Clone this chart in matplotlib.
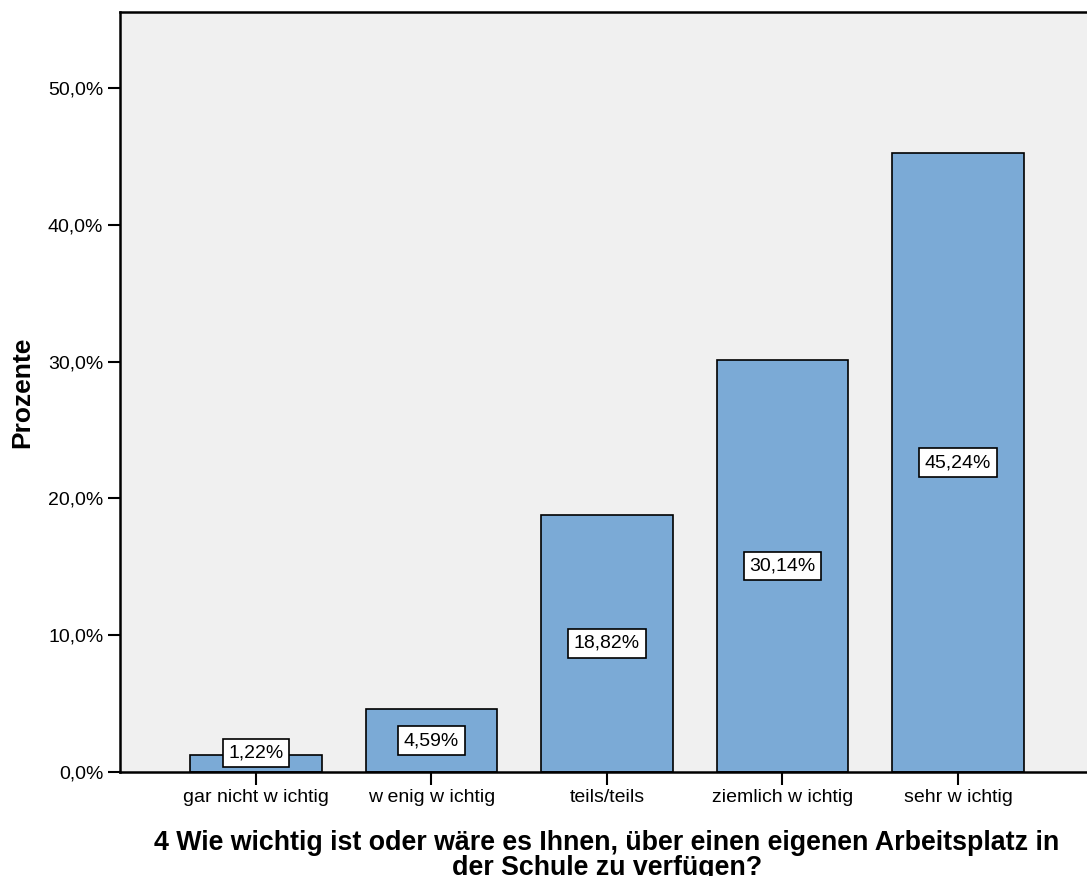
import matplotlib.pyplot as plt

plt.rcParams['font.family'] = ['Liberation Sans', 'DejaVu Sans']

# Antwortkategorien und Anteile in Prozent
kategorien = ["gar nicht w ichtig", "w enig w ichtig", "teils/teils",
              "ziemlich w ichtig", "sehr w ichtig"]
prozente = [1.22, 4.59, 18.82, 30.14, 45.24]
y_ticks = [0, 10, 20, 30, 40, 50]

fig = plt.figure(figsize=(10.87, 8.76), dpi=100)
ax = fig.add_axes([0.1104, 0.1187, 0.896, 0.8676])
ax.set_facecolor("#F0F0F0")

x = list(range(len(kategorien)))
ax.bar(x, prozente, width=0.75, color="#7BAAD6", edgecolor="black",
       linewidth=1.2, zorder=2)

# Beschriftung in der Mitte jedes Balkens
for xi, v in zip(x, prozente):
    ax.text(xi, max(v / 2, 1.4), ("%.2f" % v).replace(".", ",") + "%",
            ha="center", va="center", fontsize=14, zorder=3,
            bbox=dict(boxstyle="square,pad=0.3", facecolor="white",
                      edgecolor="black", linewidth=1.2))

ax.set_xlim(-0.775, 4.775)
ax.set_ylim(0, 55.56)
ax.set_yticks(y_ticks)
ax.set_yticklabels([("%.1f" % t).replace(".", ",") + "%" for t in y_ticks])
ax.set_xticks(x)
ax.set_xticklabels(kategorien)
ax.tick_params(axis="both", direction="out", length=9, width=1.5,
               labelsize=14, pad=3)

for s in ["left", "top", "bottom", "right"]:
    ax.spines[s].set_linewidth(1.8)

ax.set_ylabel("Prozente", fontsize=19, fontweight="bold", labelpad=10)
ax.set_xlabel("4 Wie wichtig ist oder wäre es Ihnen, über einen eigenen Arbeitsplatz in\n"
              "der Schule zu verfügen?", fontsize=19.3, fontweight="bold",
              labelpad=17.5, linespacing=0.95)

plt.savefig("out.png", dpi=100)
